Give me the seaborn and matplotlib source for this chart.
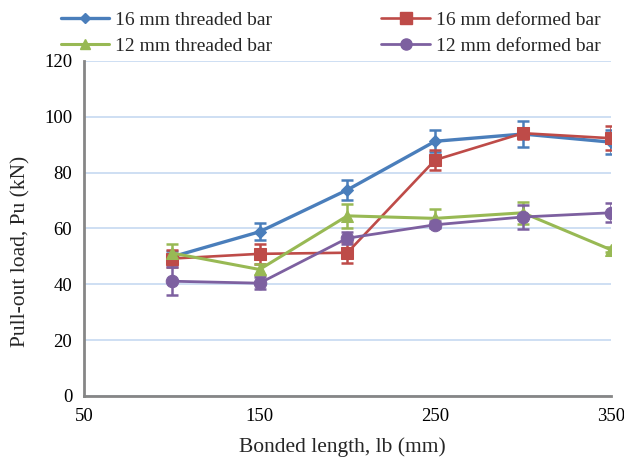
import numpy as np
import pandas as pd
import matplotlib
matplotlib.use("Agg")
import matplotlib.pyplot as plt
import seaborn as sns
from matplotlib.lines import Line2D

# ---- data ----
bonded_length = [100, 150, 200, 250, 300, 350]
series_names = ["16 mm threaded bar", "16 mm deformed bar", "12 mm threaded bar", "12 mm deformed bar"]
t16_mean = [49.8, 58.8, 73.8, 91.2, 93.8, 90.9]
t16_err = [2.0, 3.0, 3.5, 4.0, 4.6, 4.2]
d16_mean = [49.2, 50.9, 51.3, 84.5, 94.1, 92.3]
d16_err = [3.0, 3.6, 3.8, 3.5, 2.0, 4.3]
t12_mean = [51.2, 45.3, 64.5, 63.6, 65.6, 52.4]
t12_err = [3.2, 2.0, 4.4, 3.2, 4.0, 1.0]
d12_mean = [41.1, 40.4, 56.5, 61.3, 64.1, 65.6]
d12_err = [5.0, 2.2, 2.2, 1.2, 4.3, 3.4]

x_ticks = [50, 150, 250, 350]
y_ticks = [0, 20, 40, 60, 80, 100, 120]

colors = ["#4a7ebb", "#be4b48", "#98b954", "#7d60a0"]
markers = ["D", "s", "^", "o"]
msizes = [6, 9, 8, 9]
lwidths = [2.4, 1.9, 2.2, 2.0]

means = [t16_mean, d16_mean, t12_mean, d12_mean]
errs = [t16_err, d16_err, t12_err, d12_err]

rows = []
for name, m in zip(series_names, means):
    for x, v in zip(bonded_length, m):
        rows.append({"lb": x, "Pu": v, "series": name})
df = pd.DataFrame(rows)

sns.set_style("white")
plt.rcParams["font.family"] = ["Liberation Serif", "DejaVu Serif"]

fig = plt.figure(figsize=(6.24, 4.61), dpi=100)
ax = fig.add_axes([0.1346, 0.141, 0.844, 0.727])

for i, name in enumerate(series_names):
    sub = df[df["series"] == name]
    ax.errorbar(sub["lb"], sub["Pu"], yerr=errs[i], fmt="none", ecolor=colors[i],
                elinewidth=1.8, capsize=4.5, capthick=1.8, zorder=2 + i * 0.1)
    sns.lineplot(data=sub, x="lb", y="Pu", ax=ax, color=colors[i], marker=markers[i],
                 markersize=msizes[i], markeredgecolor=colors[i], linewidth=lwidths[i],
                 label=name, zorder=3 + i * 0.1, legend=False)

ax.set_xlim(50, 350)
ax.set_ylim(0, 120)
ax.set_xticks(x_ticks)
ax.set_yticks(y_ticks)
ax.yaxis.grid(True, color="#c6d9f1", linewidth=1.2)
ax.xaxis.grid(False)
ax.set_axisbelow(True)
for s in ["top", "right"]:
    ax.spines[s].set_visible(False)
for s in ["left", "bottom"]:
    ax.spines[s].set_color("#868686")
    ax.spines[s].set_linewidth(2)
ax.tick_params(axis="both", direction="out", length=5, width=1.5, color="#868686",
               labelsize=13.5, labelcolor="black")
ax.tick_params(axis="x", pad=4)
ax.set_xlabel("Bonded length, lb (mm)", fontsize=15.5)
ax.set_ylabel("Pull-out load, Pu (kN)", fontsize=15.5)
ax.xaxis.set_label_coords(0.49, -0.122)
ax.yaxis.set_label_coords(-0.102, 0.433)

handles = [Line2D([], [], color=colors[i], marker=markers[i], markersize=msizes[i] - 1,
                  linewidth=lwidths[i], markeredgecolor=colors[i]) for i in range(4)]
order = [0, 2, 1, 3]
fig.legend([handles[i] for i in order], [series_names[i] for i in order],
           loc="upper left", bbox_to_anchor=(0.085, 0.993), ncol=2, frameon=False,
           fontsize=14, handlelength=2.5, handletextpad=0.3, columnspacing=5.6,
           labelspacing=0.45, borderaxespad=0)

fig.savefig("out.png", dpi=100)
